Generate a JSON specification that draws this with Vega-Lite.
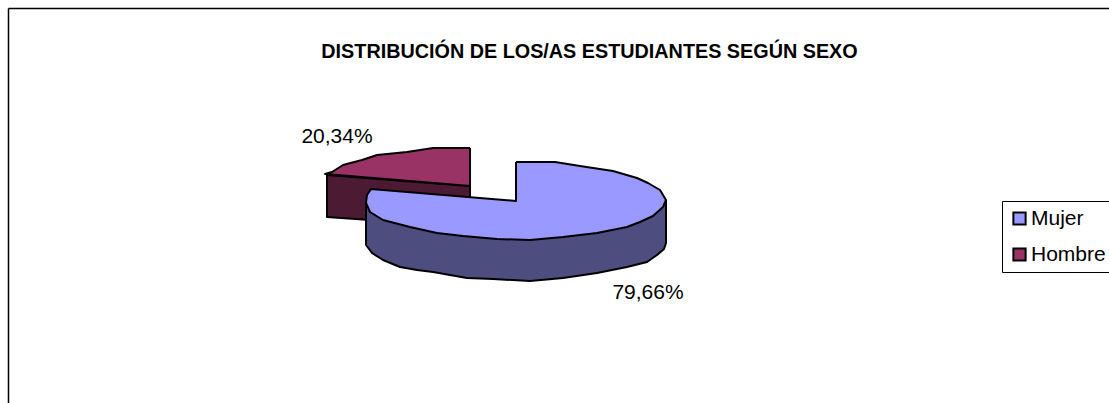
{"$schema":"https://vega.github.io/schema/vega-lite/v6.json","width":1101,"height":395,"padding":{"left":8,"top":8,"right":0,"bottom":0},"autosize":{"type":"none"},"background":"white","config":{"view":{"stroke":null},"font":"Liberation Sans"},"title":{"text":"DISTRIBUCIÓN DE LOS/AS ESTUDIANTES SEGÚN SEXO","font":"Liberation Sans","fontSize":19.8,"fontWeight":"bold","color":"black","anchor":"middle","dx":31,"dy":54,"offset":0},"layer":[{"data":{"values":[
{"parte":"Hombre lateral","i":1,"x":327,"y":175},{"parte":"Hombre lateral","i":2,"x":327,"y":217},{"parte":"Hombre lateral","i":3,"x":470,"y":227},{"parte":"Hombre lateral","i":4,"x":470,"y":186},{"parte":"Hombre lateral","i":5,"x":327,"y":175},
{"parte":"Hombre","i":6,"x":470,"y":148},{"parte":"Hombre","i":7,"x":433,"y":148},{"parte":"Hombre","i":8,"x":407,"y":152},{"parte":"Hombre","i":9,"x":377,"y":155},{"parte":"Hombre","i":10,"x":362,"y":160},{"parte":"Hombre","i":11,"x":343,"y":165},{"parte":"Hombre","i":12,"x":332,"y":172},{"parte":"Hombre","i":13,"x":325,"y":174},{"parte":"Hombre","i":14,"x":470,"y":186},{"parte":"Hombre","i":15,"x":470,"y":148},
{"parte":"Mujer lateral","i":16,"x":366,"y":203},{"parte":"Mujer lateral","i":17,"x":366,"y":245},{"parte":"Mujer lateral","i":18,"x":372,"y":253},{"parte":"Mujer lateral","i":19,"x":383,"y":260},{"parte":"Mujer lateral","i":20,"x":400,"y":267},{"parte":"Mujer lateral","i":21,"x":417,"y":270},{"parte":"Mujer lateral","i":22,"x":433,"y":272},{"parte":"Mujer lateral","i":23,"x":450,"y":275},{"parte":"Mujer lateral","i":24,"x":467,"y":278},{"parte":"Mujer lateral","i":25,"x":493,"y":279},{"parte":"Mujer lateral","i":26,"x":530,"y":281},{"parte":"Mujer lateral","i":27,"x":563,"y":278},{"parte":"Mujer lateral","i":28,"x":597,"y":273},{"parte":"Mujer lateral","i":29,"x":627,"y":267},{"parte":"Mujer lateral","i":30,"x":647,"y":262},{"parte":"Mujer lateral","i":31,"x":657,"y":255},{"parte":"Mujer lateral","i":32,"x":664,"y":249},{"parte":"Mujer lateral","i":33,"x":666,"y":243},{"parte":"Mujer lateral","i":34,"x":666,"y":200},
{"parte":"Mujer","i":35,"x":516,"y":162},{"parte":"Mujer","i":36,"x":555,"y":162},{"parte":"Mujer","i":37,"x":580,"y":166},{"parte":"Mujer","i":38,"x":613,"y":171},{"parte":"Mujer","i":39,"x":637,"y":178},{"parte":"Mujer","i":40,"x":648,"y":183},{"parte":"Mujer","i":41,"x":660,"y":190},{"parte":"Mujer","i":42,"x":666,"y":200},{"parte":"Mujer","i":43,"x":663,"y":207},{"parte":"Mujer","i":44,"x":653,"y":216},{"parte":"Mujer","i":45,"x":640,"y":222},{"parte":"Mujer","i":46,"x":627,"y":227},{"parte":"Mujer","i":47,"x":597,"y":233},{"parte":"Mujer","i":48,"x":563,"y":237},{"parte":"Mujer","i":49,"x":530,"y":240},{"parte":"Mujer","i":50,"x":497,"y":239},{"parte":"Mujer","i":51,"x":463,"y":236},{"parte":"Mujer","i":52,"x":437,"y":233},{"parte":"Mujer","i":53,"x":410,"y":227},{"parte":"Mujer","i":54,"x":383,"y":220},{"parte":"Mujer","i":55,"x":370,"y":212},{"parte":"Mujer","i":56,"x":366,"y":203},{"parte":"Mujer","i":57,"x":367,"y":195},{"parte":"Mujer","i":58,"x":371,"y":189},{"parte":"Mujer","i":59,"x":516,"y":201},{"parte":"Mujer","i":60,"x":516,"y":162}
]},"mark":{"type":"line","stroke":"black","strokeWidth":2,"strokeJoin":"round"},"encoding":{"x":{"field":"x","type":"quantitative","scale":{"domain":[8,1109],"nice":false,"zero":false},"axis":{"orient":"top","domain":true,"domainColor":"black","domainWidth":1.5,"ticks":false,"labels":false,"grid":false,"title":null}},"y":{"field":"y","type":"quantitative","scale":{"domain":[403,8],"nice":false,"zero":false},"axis":{"orient":"left","domain":true,"domainColor":"black","domainWidth":1.5,"ticks":false,"labels":false,"grid":false,"title":null}},"order":{"field":"i","type":"quantitative"},"fill":{"field":"parte","type":"nominal","scale":{"domain":["Mujer","Hombre","Mujer lateral","Hombre lateral"],"range":["#9999FF","#993366","#4D4D80","#4D1A33"]},"legend":{"values":["Mujer","Hombre"],"title":null,"orient":"none","legendX":994,"legendY":193,"symbolType":"square","symbolSize":150,"symbolStrokeColor":"black","symbolStrokeWidth":2,"symbolOpacity":1,"labelFontSize":21,"labelFont":"Liberation Sans","labelColor":"black","labelLimit":200,"strokeColor":"black","fillColor":"white","padding":7,"rowPadding":14,"labelOffset":1}}}},{"data":{"values":[{"etiqueta":"20,34%","x":337,"y":143},{"etiqueta":"79,66%","x":648,"y":299}]},"mark":{"type":"text","font":"Liberation Sans","fontSize":21,"color":"black","align":"center","baseline":"alphabetic"},"encoding":{"x":{"field":"x","type":"quantitative"},"y":{"field":"y","type":"quantitative"},"text":{"field":"etiqueta","type":"nominal"}}}]}
